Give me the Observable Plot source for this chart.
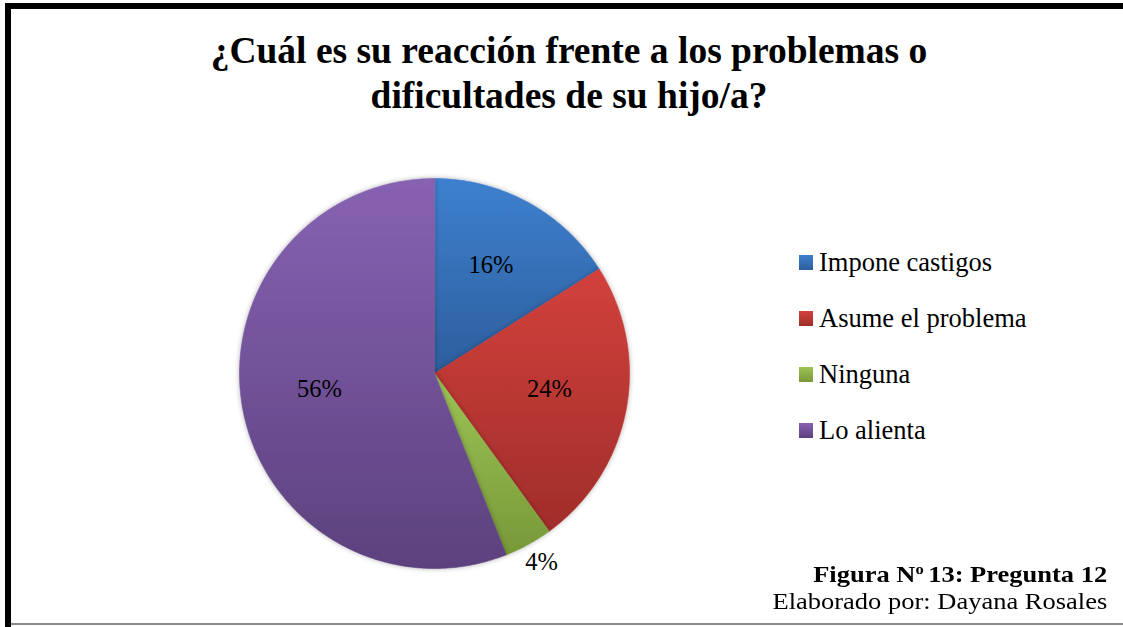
<!DOCTYPE html>
<html>
<head>
<meta charset="utf-8">
<script src="https://cdn.jsdelivr.net/npm/d3@7"></script>
<script src="https://cdn.jsdelivr.net/npm/@observablehq/plot@0.6"></script>
<style>
  html, body { margin: 0; padding: 0; background: #fff; }
  #wrap { position: relative; width: 1123px; height: 627px; overflow: hidden; background: #fff;
          font-family: "Liberation Serif", "Times New Roman", serif; color: #000; }
  #title { position: absolute; left: 0; top: 27.5px; width: 1138px; text-align: center;
           font-weight: bold; font-size: 37.5px; line-height: 45px; white-space: nowrap; }
  #plot { position: absolute; left: 0; top: 0; }
  #legend { position: absolute; left: 799px; top: 234px; font-size: 26.5px; line-height: 56px; }
  .item { height: 56px; display: flex; align-items: flex-start; white-space: nowrap; }
  .sw { width: 14px; height: 15px; margin-right: 6px; margin-top: 21px; flex: none; }
  #caption { position: absolute; right: 16px; top: 561.4px; text-align: right; font-size: 24px; line-height: 27px; white-space: nowrap; }
  #caption div { transform: scaleX(1.104); transform-origin: right center; }
  #caption sup { font-size: 15px; vertical-align: 8px; line-height: 0; margin-right: 4px; }
  .bt { position: absolute; background: #000; }
</style>
</head>
<body>
<div id="wrap">
  <div class="bt" style="left:5px;top:3px;width:1200px;height:6px;"></div>
  <div class="bt" style="left:5px;top:3px;width:6px;height:630px;"></div>
  <div class="bt" style="left:11px;top:623px;width:1200px;height:2px;background:#8c8c8c;"></div>
  <div id="plot"></div>
  <div id="title">¿Cuál es su reacción frente a los problemas o<br>dificultades de su hijo/a?</div>
  <div id="legend"></div>
  <div id="caption"><div><b>Figura N<sup>o</sup>13: Pregunta 12</b></div><div>Elaborado por: Dayana Rosales</div></div>
</div>
<script>
const categories = ["Impone castigos", "Asume el problema", "Ninguna", "Lo alienta"];
const values = [16, 24, 4, 56];
const labels = ["16%", "24%", "4%", "56%"];
const colorsTop = ["#3E80CE", "#D2413C", "#9DC556", "#8762B2"];
const colorsBottom = ["#2C5E9D", "#A02D2A", "#789838", "#5C417E"];

const total = d3.sum(values);
let acc = 0;
const slices = categories.map((c, i) => {
  const a0 = acc / total * 2 * Math.PI;
  acc += values[i];
  const a1 = acc / total * 2 * Math.PI;
  return { cat: c, i, a0, a1, value: values[i], label: labels[i] };
});

// slice outlines in unit-circle coordinates (angle clockwise from 12 o'clock)
const pts = [];
for (const s of slices) {
  pts.push({ cat: s.cat, x: 0, y: 0 });
  const n = Math.max(2, Math.ceil((s.a1 - s.a0) / (Math.PI / 360)));
  for (let k = 0; k <= n; k++) {
    const a = s.a0 + (s.a1 - s.a0) * k / n;
    pts.push({ cat: s.cat, x: Math.sin(a), y: Math.cos(a) });
  }
}
const labelPts = slices.map(s => {
  const m = (s.a0 + s.a1) / 2;
  const r = s.value < 8 ? 1.14 : 0.6;
  return { label: s.label, x: r * Math.sin(m), y: r * Math.cos(m) };
});

const marks = slices.map(s => Plot.line(pts.filter(p => p.cat === s.cat), {
  x: "x", y: "y", curve: "linear-closed",
  fill: `url(#grad${s.i})`, stroke: `url(#grad${s.i})`, strokeWidth: 0.6,
  className: "slice"
}));

const chart = Plot.plot({
  width: 1123, height: 627,
  marginTop: 0, marginRight: 0, marginBottom: 0, marginLeft: 0,
  x: { domain: [-1, 1], range: [239, 629], axis: null },
  y: { domain: [-1, 1], range: [568, 178], axis: null },
  style: { background: "transparent", overflow: "visible" },
  marks: [
    ...marks,
    Plot.text(labelPts, { x: "x", y: "y", text: "label", fontSize: 24.5, dy: -6,
      fontFamily: "Liberation Serif, Times New Roman, serif", fill: "#000" })
  ]
});

const svg = d3.select(chart);
const defs = svg.insert("defs", ":first-child");
slices.forEach(s => {
  const g = defs.append("linearGradient").attr("id", `grad${s.i}`)
    .attr("x1", 0).attr("y1", 0).attr("x2", 0).attr("y2", 1);
  g.append("stop").attr("offset", "0%").attr("stop-color", colorsTop[s.i]);
  g.append("stop").attr("offset", "100%").attr("stop-color", colorsBottom[s.i]);
});
const f = defs.append("filter").attr("id", "shadow").attr("x", "-10%").attr("y", "-10%").attr("width", "120%").attr("height", "120%");
f.append("feDropShadow").attr("dx", 0).attr("dy", 0).attr("stdDeviation", 2.5).attr("flood-color", "#000").attr("flood-opacity", 0.3);
svg.selectAll("g.slice").attr("filter", "url(#shadow)");

document.getElementById("plot").appendChild(chart);

const legend = d3.select("#legend");
categories.forEach((c, i) => {
  const it = legend.append("div").attr("class", "item");
  it.append("div").attr("class", "sw")
    .style("background", `linear-gradient(${colorsTop[i]}, ${colorsBottom[i]})`);
  it.append("span").text(c);
});
</script>
</body>
</html>
